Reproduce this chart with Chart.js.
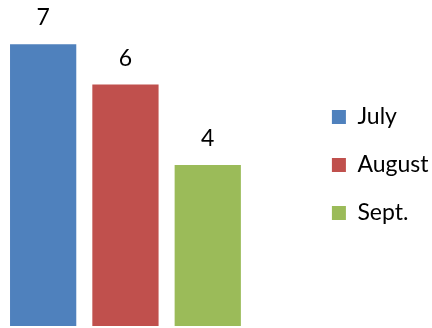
<!DOCTYPE html>
<html>
<head>
<meta charset="utf-8">
<script src="https://cdn.jsdelivr.net/npm/chart.js@4"></script>
<style>
  html, body { margin: 0; padding: 0; background: #fff; }
  #wrap { width: 432px; height: 328px; }
</style>
</head>
<body>
<div id="wrap"><canvas id="chart"></canvas></div>
<script>
// Datos
const meses = ["July", "August", "Sept."];
const valores = [7, 6, 4];
const colores = ["#4F81BD", "#C0504D", "#9BBB59"];

// Etiqueta con el valor encima de cada barra
const etiquetasValor = {
  id: "etiquetasValor",
  afterDatasetsDraw(chart) {
    const ctx = chart.ctx;
    ctx.save();
    ctx.font = "23px Lato";
    ctx.fillStyle = "#000";
    ctx.textAlign = "center";
    ctx.textBaseline = "alphabetic";
    chart.data.datasets.forEach((ds, i) => {
      const meta = chart.getDatasetMeta(i);
      meta.data.forEach((bar, j) => {
        ctx.fillText(String(ds.data[j]), bar.x, bar.y - 19);
      });
    });
    ctx.restore();
  },
};

new Chart(document.getElementById("chart").getContext("2d"), {
  type: "bar",
  data: {
    labels: [""],
    datasets: meses.map((m, i) => ({
      label: m,
      data: [valores[i]],
      backgroundColor: colores[i],
      borderWidth: 0,
    })),
  },
  options: {
    responsive: true,
    maintainAspectRatio: false,
    animation: false,
    categoryPercentage: 1,
    barPercentage: 0.805,
    layout: { padding: { left: 2, right: -6.5, top: 4, bottom: 2 } },
    plugins: {
      legend: {
        position: "right",
        maxWidth: 200,
        labels: {
          font: { family: "Lato", size: 23 },
          color: "#000",
          boxWidth: 14,
          boxHeight: 14,
          padding: 25,
        },
      },
      tooltip: { enabled: false },
    },
    scales: {
      x: { display: false },
      // eje invisible: solo deja hueco entre las barras y la leyenda
      y: {
        position: "right",
        min: 0,
        max: 8,
        ticks: { display: false },
        grid: { display: false },
        border: { display: false },
        afterFit(scale) {
          scale.width = 58;
        },
      },
    },
  },
  plugins: [etiquetasValor],
});
</script>
</body>
</html>
